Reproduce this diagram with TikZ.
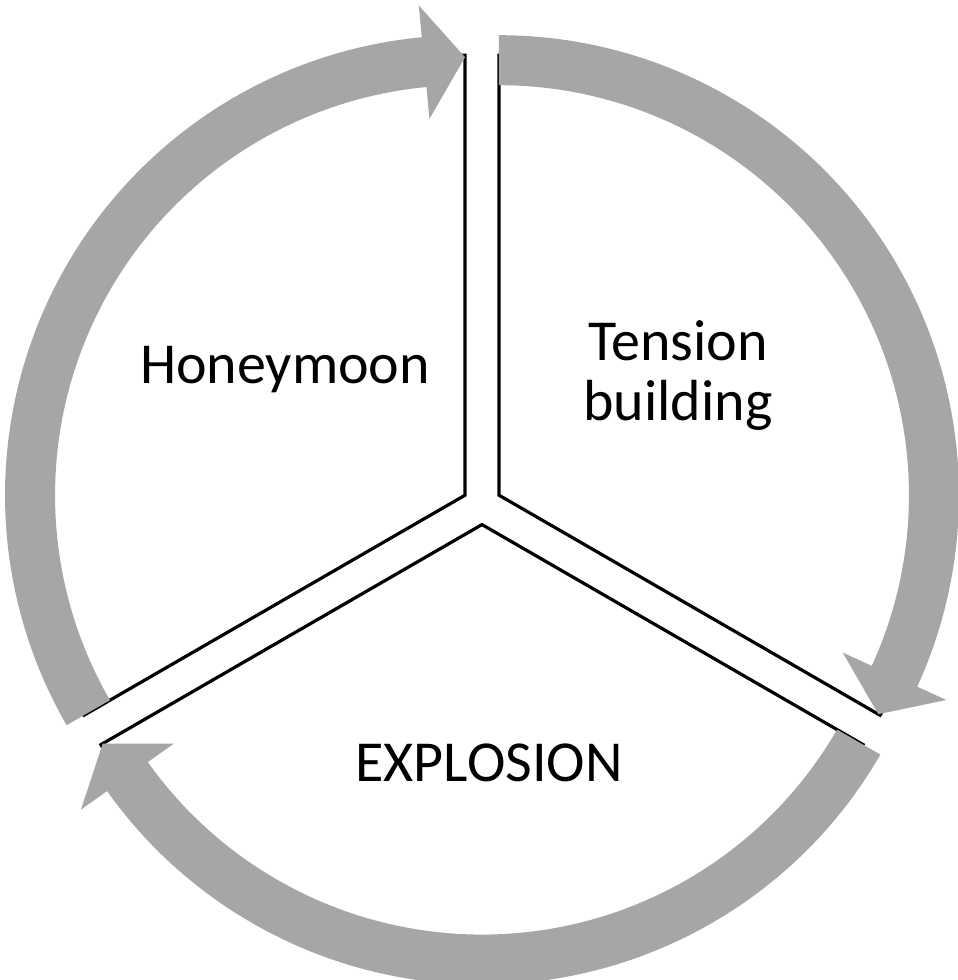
\documentclass[tikz,border=0pt]{standalone}
\usepackage{fontspec}
\setmainfont{Carlito}
\usepackage{xcolor}
\usetikzlibrary{calc}
\definecolor{bandgray}{RGB}{166,166,166}

\begin{document}
\begin{tikzpicture}[x=1pt,y=1pt,
    sector/.style={draw=black,fill=white,line width=3.2pt,line join=miter},
    band/.style={fill=bandgray},
    phase/.style={font=\fontsize{58}{60}\selectfont,align=center,anchor=base,inner sep=0pt}]
  \useasboundingbox (0,0) rectangle (958,980);
  \coordinate (mid) at (482,475);
  % three slices, each pushed out a little from the middle
  \foreach \b/\name in {150/honey,30/tension,-90/explo}{
    \coordinate (\name apex) at ($(mid)+(\b:19.6)$);
    \draw[sector] (\name apex) -- ++(\b+60:440) arc[start angle=\b+60,end angle=\b-60,radius=440] -- cycle;
  }
  % grey arrows running clockwise round each slice
  \foreach \b/\name in {150/honey,30/tension,-90/explo}{
    \begin{scope}[shift={(\name apex)}]
      \fill[band] (\b+60:460) arc[start angle=\b+60,end angle=\b-54.6,radius=460]
        -- (\b-54.6:492) -- (\b-60:438) -- (\b-54.6:378) -- (\b-54.6:410)
        arc[start angle=\b-54.6,end angle=\b+60,radius=410] -- cycle;
    \end{scope}
  }
  \node[phase](honey) at (285,596){Honeymoon};
  \node[phase](tension) at (678,559){Tension\\building};
  \node[phase](explo) at (489,198){EXPLOSION};
\end{tikzpicture}
\end{document}
